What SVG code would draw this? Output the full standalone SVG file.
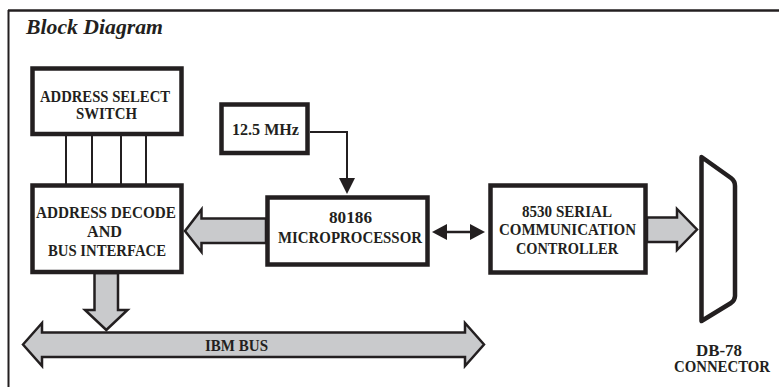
<svg xmlns="http://www.w3.org/2000/svg" width="779" height="387" viewBox="0 0 779 387">
<defs>
<style>
.box{fill:#fff;stroke:#231f20;stroke-width:4.5}
.t{font-family:"Liberation Serif","Times New Roman",serif;font-weight:bold;font-size:16px;fill:#231f20;text-anchor:middle}
.big{fill:#c9cacc;stroke:#231f20;stroke-width:2.5;stroke-linejoin:miter}
.ln{fill:none;stroke:#231f20;stroke-width:2}
.hd{fill:#231f20;stroke:none}
</style>
</defs>
<rect width="779" height="387" fill="#fff"/>
<g id="frame">
<line x1="8" y1="10.5" x2="779" y2="10.5" stroke="#231f20" stroke-width="2.5"/>
<line x1="8.5" y1="10" x2="8.5" y2="387" stroke="#231f20" stroke-width="2"/>
<text x="26" y="34" font-family="'Liberation Serif','Times New Roman',serif" font-weight="bold" font-style="italic" font-size="20.5" fill="#231f20" textLength="137" lengthAdjust="spacingAndGlyphs">Block Diagram</text>
</g>
<g id="connectors">
<g id="dip-lines" class="ln">
<line x1="66" y1="136" x2="66" y2="184"/>
<line x1="92" y1="136" x2="92" y2="184"/>
<line x1="121" y1="136" x2="121" y2="184"/>
<line x1="146" y1="136" x2="146" y2="184"/>
</g>
<g id="clock">
<polyline class="ln" points="310,132 347,132 347,179"/>
<polygon class="hd" points="339,178 355,178 347,194"/>
</g>
<g id="cpu-scc">
<line x1="444" y1="232" x2="473" y2="232" stroke="#231f20" stroke-width="2.5"/>
<polygon class="hd" points="432,232 447,224 447,240"/>
<polygon class="hd" points="485,232 470,224 470,240"/>
</g>
<polygon id="cpu-to-decode" class="big" points="266,218.5 201.5,218.5 201.5,209.5 185,231 201.5,252 201.5,243 266,243"/>
<polygon id="decode-to-bus" class="big" points="94.5,273 94.5,310 85,310 106.3,330 127.5,310 118,310 118,273"/>
<polygon id="scc-to-conn" class="big" points="647,217.5 677,217.5 677,209 697,229.5 677,250 677,242 647,242"/>
<g id="ibm-bus">
<polygon class="big" points="23,344.5 42,323 42,332.5 465,332.5 465,323 484,344.5 465,366 465,357 42,357 42,366"/>
<text class="t" x="236.5" y="351" textLength="63" lengthAdjust="spacingAndGlyphs">IBM BUS</text>
</g>
</g>
<g id="address-select">
<rect class="box" x="32.5" y="68.5" width="149" height="65.5"/>
<text class="t" x="105" y="101.5" textLength="130" lengthAdjust="spacingAndGlyphs">ADDRESS SELECT</text>
<text class="t" x="106.5" y="119" textLength="61" lengthAdjust="spacingAndGlyphs">SWITCH</text>
</g>
<g id="address-decode">
<rect class="box" x="32.5" y="185.5" width="149" height="86.5"/>
<text class="t" x="106" y="218.3" textLength="140" lengthAdjust="spacingAndGlyphs">ADDRESS DECODE</text>
<text class="t" x="104.5" y="236.7" textLength="35" lengthAdjust="spacingAndGlyphs">AND</text>
<text class="t" x="107" y="255.5" textLength="118" lengthAdjust="spacingAndGlyphs">BUS INTERFACE</text>
</g>
<g id="clock-12-5">
<rect class="box" x="221.5" y="104.5" width="86" height="48.5"/>
<text class="t" x="265.5" y="135" textLength="67" lengthAdjust="spacingAndGlyphs">12.5 MHz</text>
</g>
<g id="microprocessor">
<rect class="box" x="267.5" y="197.5" width="160" height="67"/>
<text class="t" x="350.5" y="223.3" textLength="43" lengthAdjust="spacingAndGlyphs">80186</text>
<text class="t" x="350" y="242.7" textLength="144" lengthAdjust="spacingAndGlyphs">MICROPROCESSOR</text>
</g>
<g id="scc-8530">
<rect class="box" x="490.5" y="185.5" width="155" height="87"/>
<text class="t" x="567" y="216.5" textLength="90" lengthAdjust="spacingAndGlyphs">8530 SERIAL</text>
<text class="t" x="567.5" y="235" textLength="137" lengthAdjust="spacingAndGlyphs">COMMUNICATION</text>
<text class="t" x="567" y="254" textLength="102" lengthAdjust="spacingAndGlyphs">CONTROLLER</text>
</g>
<g id="db78">
<path d="M701.5,157 L731,178 Q735,181 735,186 L735,296 Q735,300 731,303 L701.5,321 Z" fill="#fff" stroke="#231f20" stroke-width="4.5" stroke-linejoin="round"/>
<text class="t" x="719" y="356" textLength="46" lengthAdjust="spacingAndGlyphs">DB-78</text>
<text class="t" x="722" y="372" textLength="96" lengthAdjust="spacingAndGlyphs">CONNECTOR</text>
</g>
</svg>
